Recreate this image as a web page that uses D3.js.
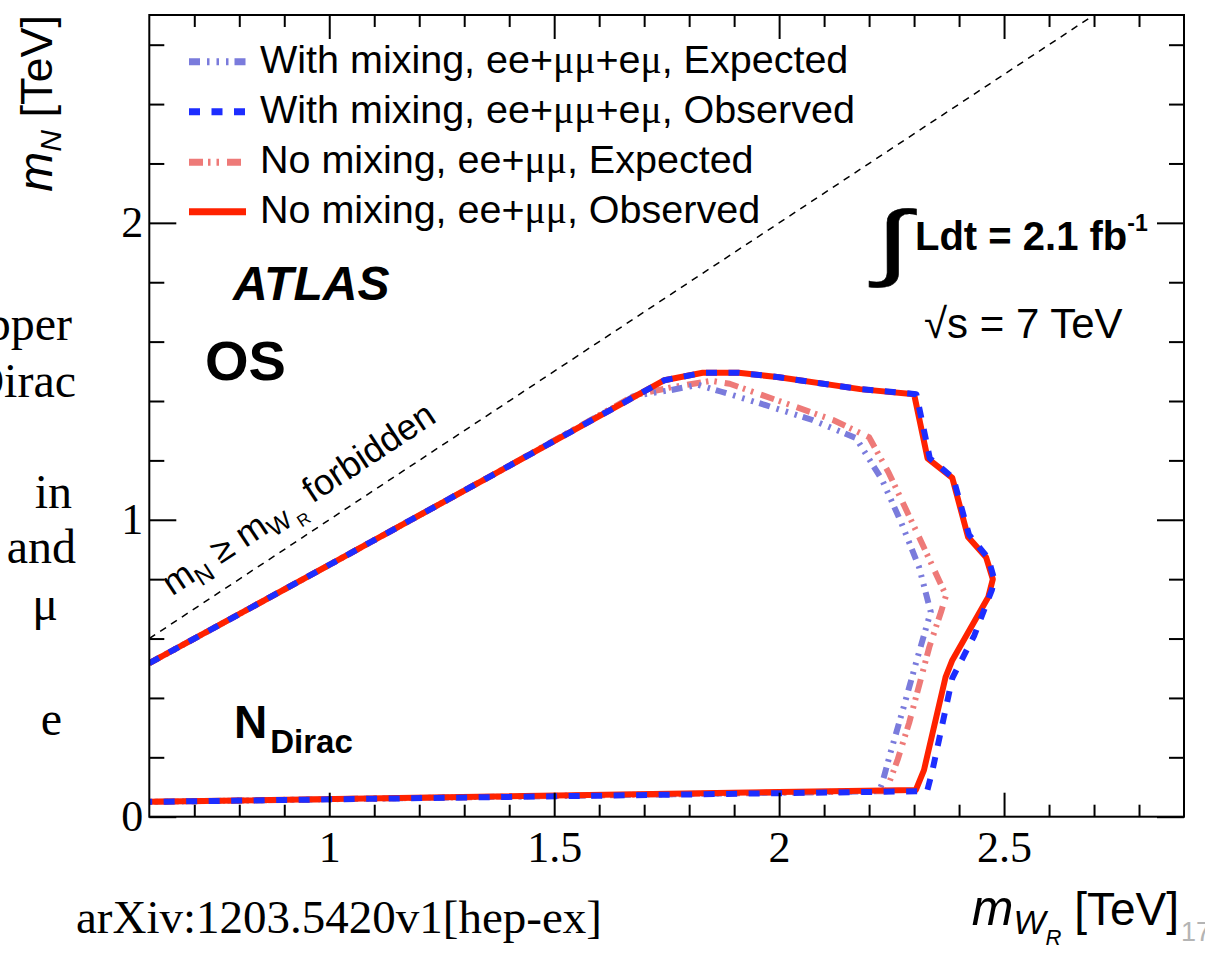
<!DOCTYPE html>
<html>
<head>
<meta charset="utf-8">
<script src="https://cdn.jsdelivr.net/npm/d3@7"></script>
<style>
  body { margin: 0; background: #fff; }
  svg { display: block; }
</style>
</head>
<body>
<svg id="chart" width="1205" height="953"></svg>
<script>
// ---- data (m_WR, m_N) in TeV ----
const xDomain = [0.6, 2.9];
const yDomain = [0, 2.7];
const xMajorTicks = [1, 1.5, 2, 2.5];
const yMajorTicks = [0, 1, 2];
const xMinorTicks = [0.7, 0.8, 0.9, 1.1, 1.2, 1.3, 1.4, 1.6, 1.7, 1.8, 1.9, 2.1, 2.2, 2.3, 2.4, 2.6, 2.7, 2.8];
const yMinorTicks = [0.2, 0.4, 0.6, 0.8, 1.2, 1.4, 1.6, 1.8, 2.2, 2.4, 2.6];

// kinematic boundary m_N = m_WR
const kinematicLimit = [[0.6, 0.6], [2.7, 2.7]];

const mixExpected = [
  [0.60, 0.517], [1.00, 0.848], [1.38, 1.165], [1.68, 1.418], [1.76, 1.437],
  [1.82, 1.455], [1.87, 1.432], [1.97, 1.386], [2.074, 1.336], [2.171, 1.275],
  [2.229, 1.134], [2.271, 0.992], [2.311, 0.841], [2.337, 0.69], [2.306, 0.527],
  [2.277, 0.37], [2.248, 0.218], [2.229, 0.112], [2.222, 0.086], [0.60, 0.05]
];
const noMixExpected = [
  [0.60, 0.517], [1.00, 0.848], [1.38, 1.165], [1.68, 1.42], [1.76, 1.446],
  [1.85, 1.468], [1.89, 1.458], [2.00, 1.40], [2.12, 1.336], [2.20, 1.278],
  [2.244, 1.157], [2.311, 0.942], [2.371, 0.745], [2.36, 0.69], [2.334, 0.572],
  [2.289, 0.316], [2.263, 0.19], [2.244, 0.112], [2.24, 0.086], [0.60, 0.05]
];
const noMixObserved = [
  [0.60, 0.517], [1.00, 0.848], [1.38, 1.165], [1.745, 1.470], [1.83, 1.495],
  [1.91, 1.495], [2.00, 1.480], [2.18, 1.440], [2.30, 1.423], [2.33, 1.207],
  [2.385, 1.141], [2.42, 0.942], [2.46, 0.874], [2.475, 0.80], [2.465, 0.74],
  [2.385, 0.527], [2.37, 0.47], [2.322, 0.157], [2.304, 0.09], [0.60, 0.05]
];
const mixObserved = [
  [0.60, 0.517], [1.00, 0.848], [1.38, 1.165], [1.745, 1.470], [1.83, 1.495],
  [1.91, 1.495], [2.00, 1.480], [2.18, 1.440], [2.305, 1.423], [2.335, 1.207],
  [2.387, 1.141], [2.422, 0.95], [2.465, 0.87], [2.478, 0.80], [2.473, 0.764],
  [2.434, 0.611], [2.385, 0.467], [2.34, 0.15], [2.329, 0.086], [0.60, 0.05]
];

const seriesLabels = [
  "With mixing, ee+μμ+eμ, Expected",
  "With mixing, ee+μμ+eμ, Observed",
  "No mixing, ee+μμ, Expected",
  "No mixing, ee+μμ, Observed"
];

(function draw() {
// ---- styles ----
const SANS = "'Liberation Sans', Arial, Helvetica, sans-serif";
const SERIF = "'Liberation Serif', 'Times New Roman', serif";
const styles = [
  { color: "#7a7bdc", dash: "11 7 2.5 7 2.5 7 2.5 6", width: 6 },
  { color: "#1d2dff", dash: "11 11.5", width: 6 },
  { color: "#ee7a78", dash: "14 5 2.5 6 2.5 8", width: 6 },
  { color: "#ff2200", dash: null, width: 6 }
];
const seriesData = [mixExpected, mixObserved, noMixExpected, noMixObserved];

const svg = d3.select("#chart");
svg.append("rect").attr("width", 1205).attr("height", 953).attr("fill", "#fff");

const pL = 149.3, pR = 1184, pT = 15, pB = 816.7;
const x = d3.scaleLinear().domain(xDomain).range([pL, pR]);
const y = d3.scaleLinear().domain(yDomain).range([pB, pT]);

// ---- slide text at the left margin ----
const marginWords = [
  { t: "pper", x: 72, y: 340 },
  { t: "Dirac", x: 76, y: 397 },
  { t: "in", x: 72, y: 508 },
  { t: "and", x: 76, y: 563 },
  { t: "μ", x: 58, y: 620 },
  { t: "e", x: 62, y: 735 }
];
svg.append("g").selectAll("text").data(marginWords).join("text")
  .attr("x", d => d.x).attr("y", d => d.y)
  .attr("text-anchor", "end")
  .attr("font-family", SERIF).attr("font-size", 48)
  .text(d => d.t);

// ---- plot ----
const clipId = "plotClip";
svg.append("clipPath").attr("id", clipId)
  .append("rect").attr("x", pL).attr("y", pT)
  .attr("width", pR - pL).attr("height", pB - pT);

const plot = svg.append("g").attr("clip-path", `url(#${clipId})`);

const line = d3.line().x(d => x(d[0])).y(d => y(d[1]));

// forbidden-region boundary
plot.append("path")
  .attr("d", line(kinematicLimit))
  .attr("fill", "none").attr("stroke", "#000")
  .attr("stroke-width", 1.5).attr("stroke-dasharray", "7 6");

// limit contours: expected first, observed on top
const drawOrder = [2, 0, 3, 1];
drawOrder.forEach(i => {
  const s = styles[i];
  const p = plot.append("path")
    .attr("d", line(seriesData[i]))
    .attr("fill", "none")
    .attr("stroke", s.color)
    .attr("stroke-width", s.width)
    .attr("stroke-linejoin", "round")
    .attr("stroke-linecap", "butt");
  if (s.dash) p.attr("stroke-dasharray", s.dash);
});

// ---- axes ----
function styleAxis(g) {
  g.select(".domain").remove();
  g.selectAll(".tick line").attr("stroke", "#000").attr("stroke-width", 2);
  g.selectAll("text").attr("font-family", SERIF).attr("font-size", 44).attr("fill", "#000");
}
const fmt = d => d3.format("")(d);

svg.append("g").attr("transform", `translate(0,${pB})`)
  .call(d3.axisBottom(x).tickValues(xMajorTicks).tickSize(-24).tickPadding(14).tickFormat(fmt))
  .call(styleAxis);
svg.append("g").attr("transform", `translate(0,${pB})`)
  .call(d3.axisBottom(x).tickValues(xMinorTicks).tickSize(-12).tickFormat(""))
  .call(styleAxis);
svg.append("g").attr("transform", `translate(0,${pT})`)
  .call(d3.axisTop(x).tickValues(xMajorTicks).tickSize(-24).tickFormat(""))
  .call(styleAxis);
svg.append("g").attr("transform", `translate(0,${pT})`)
  .call(d3.axisTop(x).tickValues(xMinorTicks).tickSize(-12).tickFormat(""))
  .call(styleAxis);

svg.append("g").attr("transform", `translate(${pL},0)`)
  .call(d3.axisLeft(y).tickValues(yMajorTicks).tickSize(-27).tickPadding(6).tickFormat(fmt))
  .call(styleAxis);
svg.append("g").attr("transform", `translate(${pL},0)`)
  .call(d3.axisLeft(y).tickValues(yMinorTicks).tickSize(-15).tickFormat(""))
  .call(styleAxis);
svg.append("g").attr("transform", `translate(${pR},0)`)
  .call(d3.axisRight(y).tickValues(yMajorTicks).tickSize(-27).tickFormat(""))
  .call(styleAxis);
svg.append("g").attr("transform", `translate(${pR},0)`)
  .call(d3.axisRight(y).tickValues(yMinorTicks).tickSize(-15).tickFormat(""))
  .call(styleAxis);

svg.append("rect")
  .attr("x", pL).attr("y", pT)
  .attr("width", pR - pL).attr("height", pB - pT)
  .attr("fill", "none").attr("stroke", "#000").attr("stroke-width", 2);

// ---- axis titles ----
const xt = svg.append("text")
  .attr("x", 1179).attr("y", 925)
  .attr("text-anchor", "end")
  .attr("font-family", SANS).attr("font-size", 46);
xt.append("tspan").attr("font-style", "italic").attr("font-size", 50).text("m");
xt.append("tspan").attr("font-style", "italic").attr("font-size", 34).attr("dy", 9).text("W");
xt.append("tspan").attr("font-style", "italic").attr("font-size", 22).attr("dy", 11).text("R");
xt.append("tspan").attr("dy", -20).text(" [TeV]");

const yt = svg.append("text")
  .attr("transform", "translate(52,15) rotate(-90)")
  .attr("text-anchor", "end")
  .attr("font-family", SANS).attr("font-size", 45);
yt.append("tspan").attr("font-style", "italic").attr("font-size", 48).text("m");
yt.append("tspan").attr("font-style", "italic").attr("font-size", 30).attr("dy", 9).text("N");
yt.append("tspan").attr("dy", -9).text(" [TeV]");

// page number
svg.append("text").attr("x", 1181).attr("y", 941)
  .attr("font-family", SANS).attr("font-size", 27).attr("fill", "#b4b4b4").text("17");

// reference line under the plot
svg.append("text").attr("x", 76).attr("y", 933)
  .attr("font-family", SERIF).attr("font-size", 47).text("arXiv:1203.5420v1[hep-ex]");

// ---- legend ----
const legendRowsY = [61.7, 111.7, 162.3, 211.7];
const lg = svg.append("g");
seriesLabels.forEach((lab, i) => {
  const s = styles[i];
  const ly = legendRowsY[i];
  const l = lg.append("line")
    .attr("x1", 189).attr("x2", 246).attr("y1", ly).attr("y2", ly)
    .attr("stroke", s.color).attr("stroke-width", 7);
  if (s.dash) l.attr("stroke-dasharray", s.dash);
  const t = lg.append("text").attr("x", 260).attr("y", ly + 11)
    .attr("font-family", SANS).attr("font-size", 39.5);
  lab.split(/(μ+)/).forEach(part => {
    if (!part) return;
    const sp = t.append("tspan").text(part);
    if (part[0] === "μ") sp.attr("font-family", SERIF);
  });
});

// ---- annotations ----
svg.append("text").attr("x", 233).attr("y", 300)
  .attr("font-family", SANS).attr("font-size", 48)
  .attr("font-weight", "bold").attr("font-style", "italic").text("ATLAS");
svg.append("text").attr("x", 205).attr("y", 380)
  .attr("font-family", SANS).attr("font-size", 56)
  .attr("font-weight", "bold").text("OS");
const nd = svg.append("text").attr("x", 234).attr("y", 738)
  .attr("font-family", SANS).attr("font-weight", "bold").attr("font-size", 46);
nd.append("tspan").text("N");
nd.append("tspan").attr("font-size", 33).attr("dx", 3).attr("dy", 15).text("Dirac");

// luminosity and energy
svg.append("text")
  .attr("transform", "translate(875,270) scale(1.6,1.05)")
  .attr("font-family", SANS).attr("font-size", 80)
  .attr("stroke", "#000").attr("stroke-width", 0.4).text("∫");
const lum = svg.append("text").attr("x", 915).attr("y", 250)
  .attr("font-family", SANS).attr("font-weight", "bold").attr("font-size", 40);
lum.append("tspan").text("Ldt = 2.1 fb");
lum.append("tspan").attr("font-size", 23).attr("dy", -19).text("-1");
svg.append("text").attr("x", 924).attr("y", 338)
  .attr("font-family", SANS).attr("font-size", 42).text("√s = 7 TeV");

// forbidden-region label, parallel to the m_N = m_WR line
const angle = Math.atan2(y(kinematicLimit[0][1]) - y(kinematicLimit[1][1]),
                         x(kinematicLimit[1][0]) - x(kinematicLimit[0][0])) * 180 / Math.PI;
const fx = 172, fy = y(x.invert(172)) - 27;
const ft = svg.append("text")
  .attr("transform", `translate(${fx},${fy}) rotate(${-angle})`)
  .attr("font-family", SANS).attr("font-size", 36);
ft.append("tspan").text("m");
ft.append("tspan").attr("font-size", 25).attr("dy", 8).text("N");
ft.append("tspan").attr("dy", -8).text(" ≥ m");
ft.append("tspan").attr("font-size", 25).attr("dy", 7).text("W");
ft.append("tspan").attr("font-size", 17).attr("dy", 7).text(" R");
ft.append("tspan").attr("dy", -14).text(" forbidden");
})();
</script>
</body>
</html>
